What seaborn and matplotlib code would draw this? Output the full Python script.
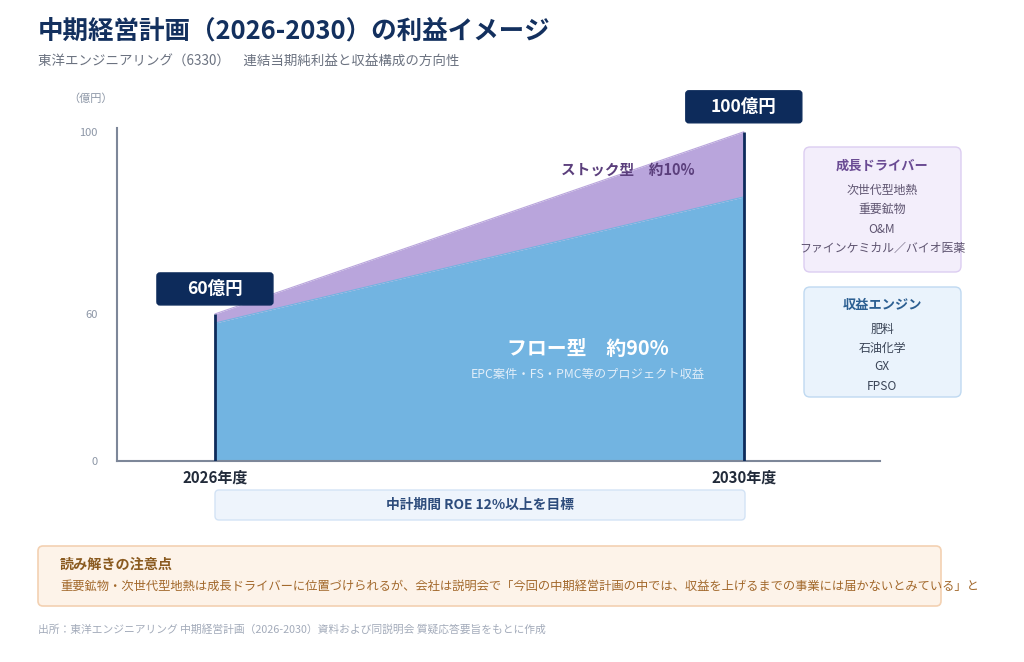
import matplotlib
matplotlib.use("Agg")
import matplotlib.pyplot as plt
import matplotlib.transforms as mtransforms
from matplotlib.patches import FancyBboxPatch
import pandas as pd
import seaborn as sns

# data (illustrative axis)
years = [2026, 2030]
total = [60, 100]
flow = [58, 85.7]
year_labels = ["2026年度", "2030年度"]
total_labels = ["60億円", "100億円"]
y_bottom = 27.7
y_ticks = [y_bottom, 60, 100]
y_tick_labels = ["0", "60", "100"]

drivers = ["次世代型地熱", "重要鉱物", "O&M", "ファインケミカル／バイオ医薬"]
engines = ["肥料", "石油化学", "GX", "FPSO"]

df = pd.DataFrame({"year": years, "total": total, "flow": flow})

sns.set_theme(style="white")
plt.rcParams["font.family"] = ["Noto Sans CJK JP", "DejaVu Sans"]

W, H = 1024, 662
NAVY = "#0d2b5b"
BLUE = "#72b4e1"
PURPLE = "#b9a5dc"

fig = plt.figure(figsize=(W / 100, H / 100), dpi=100)
fig.patch.set_facecolor("white")
ax = fig.add_axes([116.7 / W, 1 - 461 / H, (880 - 116.7) / W, (461 - 127.7) / H])
ident = mtransforms.IdentityTransform()


def box(x0, y0, x1, y1, fc, ec, r=4, lw=1.0):
    # pixel coords, top-left origin
    p = FancyBboxPatch((x0, H - y1), x1 - x0, y1 - y0,
                       boxstyle=f"round,pad=0,rounding_size={r}",
                       fc=fc, ec=ec, lw=lw, transform=ident, zorder=0)
    fig.patches.append(p)


def ftext(x, y, s, **kw):
    fig.text(x / W, 1 - y / H, s, **kw)


# stacked areas
ax.fill_between(df["year"], y_bottom, df["flow"], color=BLUE, lw=0, zorder=1)
ax.fill_between(df["year"], df["flow"], df["total"], color=PURPLE, lw=0, zorder=1)
sns.lineplot(data=df, x="year", y="flow", ax=ax, color=BLUE, lw=0.8, zorder=2)
sns.lineplot(data=df, x="year", y="total", ax=ax, color=PURPLE, lw=0.8, zorder=2)
ax.vlines(df["year"], y_bottom, df["total"], color=NAVY, lw=2, zorder=3)

ax.set_xlim(2025.257, 2031.03)
ax.set_ylim(y_bottom, 100.9)
ax.set_xticks(years)
ax.set_xticklabels(year_labels, fontsize=10.8, fontweight="bold", color="#222b3a")
ax.set_yticks(y_ticks)
ax.set_yticklabels(y_tick_labels, fontsize=8, color="#8c96a6")
ax.tick_params(axis="x", length=0, pad=6)
ax.tick_params(axis="y", length=0, pad=14)
ax.set_xlabel("")
ax.set_ylabel("")
for side in ["top", "right"]:
    ax.spines[side].set_visible(False)
for side in ["left", "bottom"]:
    ax.spines[side].set_color("#7d8799")
    ax.spines[side].set_linewidth(1.5)

# value boxes above the endpoints
fig.canvas.draw()
offsets = [(0, 25), (0, 25)]
for (yr, tv, lab), (dx, dy) in zip(zip(years, total, total_labels), offsets):
    px, py = ax.transData.transform((yr, tv))
    cx, cy = px + dx, (H - py) - dy
    box(cx - 58, cy - 16, cx + 58, cy + 16, NAVY, NAVY, r=3)
    ftext(cx, cy, lab, ha="center", va="center", fontsize=12.6,
          fontweight="bold", color="white")

# area labels
ax.text(2029.12, 91.7, "ストック型　約10%", ha="center", va="center",
        fontsize=10.5, fontweight="bold", color="#5b3f7c")
ax.text(2028.82, 52.4, "フロー型　約90%", ha="center", va="center",
        fontsize=14.3, fontweight="bold", color="white")
ax.text(2028.82, 46.6, "EPC案件・FS・PMC等のプロジェクト収益", ha="center",
        va="center", fontsize=8.8, color="#e2eef9")

# titles
ftext(38, 31, "中期経営計画（2026-2030）の利益イメージ", ha="left", va="center",
      fontsize=18.4, fontweight="bold", color="#13305e")
ftext(38, 62, "東洋エンジニアリング（6330）　連結当期純利益と収益構成の方向性",
      ha="left", va="center", fontsize=9.7, color="#6b7280")
ftext(91, 99, "（億円）", ha="center", va="center", fontsize=8, color="#8c96a6")

# right side boxes
box(804, 147, 961, 272, "#f3eefb", "#dccdf1", r=6)
ftext(882, 166, "成長ドライバー", ha="center", va="center", fontsize=9.5,
      fontweight="bold", color="#6a4b93")
for i, t in enumerate(drivers):
    ftext(882, 190 + i * 19.5, t, ha="center", va="center", fontsize=8.6,
          color="#5e5470")

box(804, 287, 961, 397, "#eaf3fc", "#bfd9f1", r=6)
ftext(882, 305, "収益エンジン", ha="center", va="center", fontsize=9.5,
      fontweight="bold", color="#2c5f92")
for i, t in enumerate(engines):
    ftext(882, 329 + i * 19, t, ha="center", va="center", fontsize=8.6,
          color="#3a4456")

# ROE box
box(215, 490, 745, 520, "#eef4fc", "#d3e3f5", r=4)
ftext(480, 505, "中計期間 ROE 12%以上を目標", ha="center", va="center",
      fontsize=9.9, fontweight="bold", color="#2d4c7c")

# note box
box(38, 546, 941, 606, "#fdf3e9", "#f3d1b2", r=5, lw=1.2)
ftext(60, 565, "読み解きの注意点", ha="left", va="center", fontsize=10.2,
      fontweight="bold", color="#8a5a1f")
ftext(60, 586, "重要鉱物・次世代型地熱は成長ドライバーに位置づけられるが、会社は説明会で"
      "「今回の中期経営計画の中では、収益を上げるまでの事業には届かないとみている」と",
      ha="left", va="center", fontsize=8.85, color="#a2682b")

ftext(38, 629, "出所：東洋エンジニアリング 中期経営計画（2026-2030）資料および同説明会 質疑応答要旨をもとに作成",
      ha="left", va="center", fontsize=7.75, color="#a3abba")

fig.savefig("out.png", dpi=100)
